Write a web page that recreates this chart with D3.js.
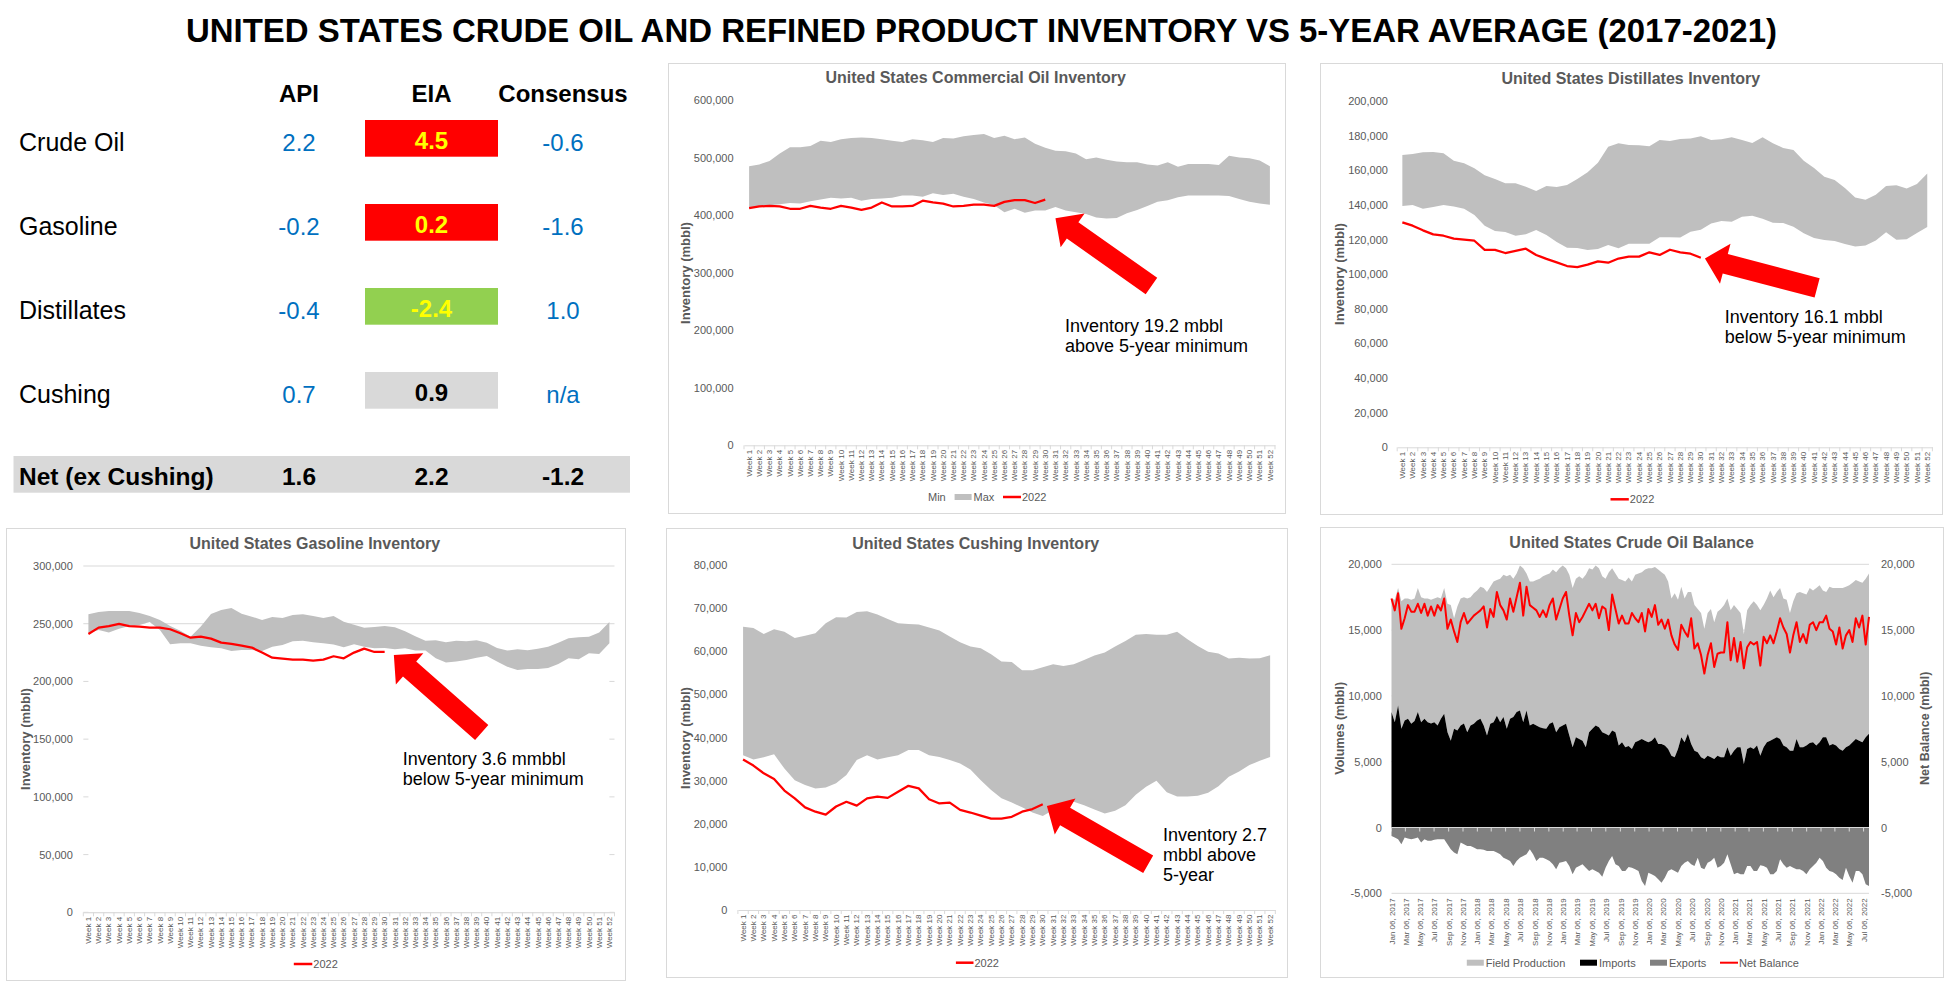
<!DOCTYPE html>
<html>
<head>
<meta charset="utf-8">
<title>US crude oil and refined product inventory vs 5-year average</title>
<script src="https://cdnjs.cloudflare.com/ajax/libs/d3/7.8.5/d3.min.js"></script>
<style>
  body { margin: 0; background: #fff; }
  svg { display: block; font-family: "Liberation Sans", Arial, Helvetica, sans-serif; }
</style>
</head>
<body>
<script>
// ---------- weekly change table (mmbbl) ----------
var tableRows = ["Crude Oil", "Gasoline", "Distillates", "Cushing"];
var apiVals = [2.2, -0.2, -0.4, 0.7];
var eiaVals = [4.5, 0.2, -2.4, 0.9];
var consensusVals = [-0.6, -1.6, 1.0, null];
var netLabel = "Net (ex Cushing)";
var netVals = [1.6, 2.2, -1.2];

var weeks = d3.range(1, 53).map(function(w){ return "Week " + w; });

// ---------- 5-year min / max and 2022 (thousand bbl) ----------
var commercialMax = [485000,488000,494000,507000,518000,518000,520000,529000,527000,532000,
  534000,535000,534000,532000,529000,527000,532000,530000,527000,534000,
  533000,537000,539000,541000,534000,538000,532000,535000,524000,517000,
  512000,511000,507000,497000,500000,496000,493000,492000,492000,488000,
  486000,492000,484000,489000,489000,489000,487000,503000,500000,499000,
  495000,485000];
var commercialMin = [412000,415000,417000,419000,421000,420000,424000,427000,430000,429000,
  430000,425000,428000,429000,430000,434000,434000,432000,438000,435000,
  437000,432000,428000,422000,417000,405000,411000,404000,408000,408000,
  414000,408000,405000,402000,396000,394000,395000,403000,409000,416000,
  423000,426000,431000,434000,434000,434000,434000,433000,428000,423000,
  420000,418000];
var commercial2022 = [412000,415000,416000,415000,411000,411000,416000,413000,411000,416000,
  413000,409000,413000,422000,415000,415000,416000,425000,422000,420000,
  415000,416000,418000,418000,416000,423000,426000,426000,421000,427000];

var distillatesMax = [168800,169400,170400,170500,169800,165500,164000,161100,157100,155000,
  152500,152500,150500,148000,150900,150300,151500,155000,158800,164400,
  173600,175600,174600,174400,173800,177500,176900,178100,178400,179600,
  177500,177900,179000,177500,175700,179000,175600,172900,171700,165500,
  161300,156300,154400,149800,144200,143000,145900,150900,151300,149400,
  152100,158200];
var distillatesMin = [139400,139900,137800,138800,139900,139000,137800,134200,128000,124900,
  124400,122200,123000,125500,122600,118600,115300,115100,114000,114500,
  116800,114900,117600,117600,117600,121300,121300,121100,124500,125700,
  129200,130700,130300,133200,133800,132000,129700,129500,127400,123600,
  120900,119700,119200,117400,115900,116500,119500,124200,119900,120100,
  123800,127200];
var distillates2022 = [129900,128000,125300,123000,122200,120500,119900,119300,114000,114000,
  112200,113400,114700,111100,108800,106800,104700,104100,105500,107400,
  106600,109000,110100,110100,112600,111100,114100,112600,111800,109500];

var gasolineMax = [258200,260200,261000,261000,261000,259300,256700,253300,248000,244000,
  238800,247500,258400,261900,263600,258700,256100,253300,255800,255000,
  257600,258200,256700,255000,256700,251800,249200,246600,247200,248000,
  246900,243400,239100,235300,235600,233900,235300,234800,235600,233600,
  229000,226700,227800,227000,228400,230100,233600,237400,238200,238800,
  242300,251500];
var gasolineMin = [241700,244600,242300,245700,248000,248900,251500,244600,232200,233000,
  233000,231000,229600,228700,226400,227300,227300,226400,230100,231600,
  234800,235300,233900,233000,231900,229600,232200,230100,228700,229000,
  227800,228700,226700,226700,220000,216300,217200,218600,220600,222100,
  217200,212800,209900,210800,210800,211700,215100,220000,219200,224400,
  223800,233000];
var gasoline2022 = [241100,246600,248000,249800,248000,247500,246600,246600,245200,241700,
  237900,238800,237100,233600,232500,231000,229300,225000,220600,219700,
  218900,218900,218000,218900,221800,220000,225000,228400,225500,225500];

var cushingMax = [65700,65400,64000,65100,64500,63100,63600,64200,66500,67900,
  67800,69100,69300,68500,67500,66500,66300,66200,65500,64800,
  63400,62100,61100,60700,59300,57600,57500,55600,55600,56300,
  57000,56600,57000,58000,59000,59700,61100,62400,63800,64000,
  63800,63800,64500,62800,61200,59900,59500,58300,58500,58300,
  58400,59100];
var cushingMin = [35900,34900,35400,36100,32800,30100,29000,28200,28400,29400,
  31300,34800,35900,34900,35400,35900,37100,37100,35900,35500,
  34800,34000,32600,30100,27800,25900,24900,23800,22600,21800,
  23200,24700,25100,24300,23300,22400,23000,24300,26700,28600,
  30000,27300,26300,26300,26500,27200,28700,30900,32100,33600,
  34600,35500];
var cushing2022 = [34900,33500,31700,30400,27700,25900,23800,22800,22100,24000,
  25100,24200,25900,26300,26000,27400,28800,28200,25700,24700,
  24900,23200,22600,21900,21200,21200,21600,22800,23400,24500];

// ---------- crude balance, every 2nd week from Jan 06 2017 (kb/d) ----------
var balanceStart = new Date(2017, 0, 6);
var balanceStepDays = 14;
var imports = [8770,8000,9280,7500,8130,8260,7880,8100,8770,8000,
  8260,8000,7900,8000,7750,8260,8640,7240,6600,7500,
  7370,7750,7900,7240,7750,7880,8130,8260,7750,7000,
  7880,8000,8500,8000,8400,7500,8260,8390,8770,8900,
  8000,8900,7750,7880,7750,7620,7550,7500,7880,8000,
  7240,7620,7750,7880,7000,6100,6860,6730,6600,6100,
  7240,7500,7750,7620,7240,7120,7000,7370,7240,6230,
  6480,6100,6200,5970,6480,6600,6730,6600,6480,6600,
  6860,6350,6350,6230,5970,5460,5340,5970,6860,6480,
  7120,6350,5840,5720,5340,5210,5460,5340,5210,5460,
  5340,5340,6100,5460,5840,6100,6100,4830,5970,6100,
  5970,6230,5460,6100,6480,6600,6730,6860,6730,6230,
  6100,5840,5840,6730,6100,6100,6230,6430,6480,6230,
  6480,6860,6860,6230,6350,6230,5970,5840,6100,6230,
  6480,6730,6600,6480,6860,7120];
var fieldProduction = [8630,9300,8920,9700,9270,9140,9420,9300,9430,9500,
  9140,9400,9400,9400,9750,9140,9560,9760,10300,8400,
  9430,9650,9600,10160,9750,9920,9870,10040,10450,10900,
  10420,10700,10300,10900,10800,11600,10940,10510,10530,11000,
  11700,10400,10950,10820,11050,11280,11550,11700,11420,11600,
  12160,12080,12150,11820,12200,12100,12040,12370,12300,13100,
  12460,12100,12150,12080,11860,11780,12400,12330,12060,12670,
  12320,12600,12800,12730,12720,12700,12670,13000,13220,13100,
  12940,13250,13050,12970,12730,11940,12460,11330,11440,10920,
  10780,11550,11060,10880,10960,9890,10840,11260,10390,10940,
  11260,11560,11300,11040,11060,10500,10200,9870,10530,10800,
  11230,10670,11040,10800,10920,11400,10770,11040,11470,11170,
  11200,10460,11360,11070,11800,11700,11470,11770,11520,11970,
  11920,11140,11040,12070,11850,11970,12230,12360,12200,12170,
  12120,12070,12100,12120,12040,12180];
var exports = [-640,-760,-890,-1270,-760,-840,-890,-840,-760,-1140,
  -890,-1000,-1000,-940,-890,-890,-890,-1270,-1650,-1900,
  -2030,-1140,-1270,-1400,-1400,-1520,-1650,-1650,-1700,-1780,
  -1780,-1780,-1900,-2030,-2290,-2410,-2540,-2920,-2540,-2290,
  -2160,-2030,-1650,-2030,-2540,-2290,-2290,-2410,-2540,-2800,
  -3180,-2670,-2620,-2540,-2920,-3560,-3050,-2920,-2800,-3050,
  -3300,-3180,-3300,-3430,-3740,-3050,-2540,-2160,-2800,-2920,
  -3300,-3300,-3000,-3050,-3180,-3300,-4070,-4450,-3430,-3560,
  -3680,-3940,-4190,-3810,-3300,-3180,-3300,-3430,-2920,-2670,
  -2540,-2800,-2920,-2290,-3050,-3180,-2670,-2540,-2290,-3050,
  -2920,-2670,-2030,-2800,-3560,-3430,-3560,-3560,-2920,-2920,
  -3300,-3300,-2870,-2920,-3050,-3560,-3560,-3300,-2410,-2800,
  -3050,-2920,-3050,-3180,-3180,-3300,-3560,-3180,-2920,-2670,
  -2290,-2540,-3050,-3300,-3380,-3560,-3810,-3990,-3050,-3680,
  -4190,-3300,-3300,-3560,-4320,-4450];
var netBalance = [17400,16500,17800,15100,15900,16900,16400,16400,17000,16300,
  17000,16100,16800,16100,16900,16500,17400,15100,15800,14900,
  14100,15600,16300,15500,15800,16100,16300,16500,16800,15200,
  16600,16000,17900,16900,16500,15800,17400,16400,17500,18600,
  16100,18300,16900,16700,16500,16000,16500,16000,16900,17400,
  15800,16600,17400,17900,16100,14600,16300,15600,16000,16500,
  17000,16500,17000,15900,16800,16600,15000,17700,16600,15500,
  16100,15500,15500,16300,15900,15600,16300,14900,16600,16000,
  16900,15400,15800,15100,15800,14600,13900,13500,15400,14900,
  14500,15900,13600,14000,13100,11700,13100,14000,12200,13200,
  13300,13300,15600,12700,14400,12600,14100,12100,13700,14100,
  13900,14100,12300,14500,14000,14600,14000,14900,15900,15200,
  14700,13300,14600,15600,14100,14700,14000,15400,15600,15000,
  15600,15600,16100,15100,14900,13900,15200,13600,14600,15000,
  14100,15900,15200,16100,13900,16000];

// ------------------------------------------------------------
var FONT = '"Liberation Sans", Arial, Helvetica, sans-serif';
var GREY_TXT = "#595959", BAND = "#bfbfbf", LINE_GREY = "#d9d9d9", RED = "#ff0000";

// excel style numbers: plain hyphen for minus
var loc = d3.formatLocale({decimal: ".", thousands: ",", grouping: [3], currency: ["$", ""], minus: "-"});
var fmt1 = loc.format(".1f"), fmtComma = loc.format(",");

var svg = d3.select("body").append("svg")
  .attr("width", 1946)
  .attr("height", 986);

svg.append("rect").attr("width", 1946).attr("height", 986).attr("fill", "#fff");

// big title
svg.append("text")
  .attr("x", 981.5).attr("y", 41.5)
  .attr("text-anchor", "middle")
  .attr("font-size", 33).attr("font-weight", "bold")
  .attr("textLength", 1591).attr("lengthAdjust", "spacingAndGlyphs")
  .text("UNITED STATES CRUDE OIL AND REFINED PRODUCT INVENTORY VS 5-YEAR AVERAGE (2017-2021)");

// ---------- table ----------
function drawTable(){
  var colX = [299, 431.5, 563];
  var t = svg.append("g");
  ["API", "EIA", "Consensus"].forEach(function(h, i){
    t.append("text").attr("x", colX[i]).attr("y", 101.7)
      .attr("text-anchor", "middle").attr("font-size", 24).attr("font-weight", "bold")
      .text(h);
  });

  tableRows.forEach(function(name, r){
    var base = 150.7 + r*84, boxTop = 120 + r*84;
    // red = build bigger than expected, green = draw, grey = nothing to compare with
    var c = consensusVals[r];
    var fill = c == null ? "#d9d9d9" : (eiaVals[r] > c ? "#ff0000" : "#92d050");
    var txtCol = c == null ? "#000" : "#ffff00";

    t.append("text").attr("x", 19).attr("y", base).attr("font-size", 25).text(name);
    t.append("text").attr("x", colX[0]).attr("y", base).attr("text-anchor", "middle")
      .attr("font-size", 24).attr("fill", "#0070c0").text(fmt1(apiVals[r]));
    t.append("rect").attr("x", 365).attr("y", boxTop).attr("width", 133).attr("height", 36.7).attr("fill", fill);
    t.append("text").attr("x", colX[1]).attr("y", base - 1.5).attr("text-anchor", "middle")
      .attr("font-size", 24).attr("font-weight", "bold").attr("fill", txtCol).text(fmt1(eiaVals[r]));
    t.append("text").attr("x", colX[2]).attr("y", base).attr("text-anchor", "middle")
      .attr("font-size", 24).attr("fill", "#0070c0").text(c == null ? "n/a" : fmt1(c));
  });

  t.append("rect").attr("x", 13.5).attr("y", 456).attr("width", 616.5).attr("height", 36.7).attr("fill", "#d9d9d9");
  t.append("text").attr("x", 19).attr("y", 485).attr("font-size", 24.5).attr("font-weight", "bold").text(netLabel);
  netVals.forEach(function(v, i){
    t.append("text").attr("x", colX[i]).attr("y", 485).attr("text-anchor", "middle")
      .attr("font-size", 24.5).attr("font-weight", "bold").text(fmt1(v));
  });
}

// block arrow, tail -> tip
function blockArrow(g, tip, tail, shaft, headW, headL){
  var dx = tip[0]-tail[0], dy = tip[1]-tail[1], len = Math.sqrt(dx*dx+dy*dy);
  var ux = dx/len, uy = dy/len, nx = -uy, ny = ux;
  var bx = tip[0]-ux*headL, by = tip[1]-uy*headL;
  var pts = [
    [tail[0]+nx*shaft/2, tail[1]+ny*shaft/2],
    [bx+nx*shaft/2, by+ny*shaft/2],
    [bx+nx*headW/2, by+ny*headW/2],
    tip,
    [bx-nx*headW/2, by-ny*headW/2],
    [bx-nx*shaft/2, by-ny*shaft/2],
    [tail[0]-nx*shaft/2, tail[1]-ny*shaft/2]
  ];
  g.append("path").attr("d", d3.line()(pts) + "Z").attr("fill", RED);
}

function panelFrame(g, box, title, tx, ty){
  g.append("rect")
    .attr("x", box[0]+0.5).attr("y", box[1]+0.5)
    .attr("width", box[2]-box[0]).attr("height", box[3]-box[1])
    .attr("fill", "#fff").attr("stroke", LINE_GREY).attr("stroke-width", 1);
  g.append("text").attr("x", tx).attr("y", ty).attr("text-anchor", "middle")
    .attr("font-size", 16).attr("font-weight", "bold").attr("fill", GREY_TXT)
    .text(title);
}

function yTitle(g, txt, x, y, size){
  g.append("text")
    .attr("transform", "translate(" + (x + size*0.35) + "," + y + ") rotate(-90)")
    .attr("text-anchor", "middle").attr("font-size", size).attr("font-weight", "bold")
    .attr("fill", GREY_TXT).text(txt);
}

function legendLine(g, x0, x1, y, label, w){
  g.append("line").attr("x1", x0).attr("x2", x1).attr("y1", y).attr("y2", y)
    .attr("stroke", RED).attr("stroke-width", w || 2.5);
  g.append("text").attr("x", x1 + 1).attr("y", y + 4).attr("font-size", 11).attr("fill", GREY_TXT).text(label);
}
function legendRect(g, x0, y, color, label){
  g.append("rect").attr("x", x0).attr("y", y - 3).attr("width", 17).attr("height", 6).attr("fill", color);
  g.append("text").attr("x", x0 + 19).attr("y", y + 4).attr("font-size", 11).attr("fill", GREY_TXT).text(label);
}

// ---------- weekly inventory chart ----------
function inventoryChart(cfg){
  var g = svg.append("g");
  panelFrame(g, cfg.box, cfg.title, cfg.titleX, cfg.titleY);

  var x = d3.scaleBand().domain(weeks).range([cfg.plot.left, cfg.plot.right]);
  var y = d3.scaleLinear().domain([0, cfg.yMax]).range([cfg.plot.bottom, cfg.plot.top]);
  var bw = x.bandwidth();
  function cx(d, i){ return x(weeks[i]) + bw/2; }
  function wx(w){ return x(weeks[0]) + bw/2 + (w-1)*bw; } // fractional week -> px

  var ticks = d3.range(0, cfg.yMax + 1, cfg.yStep);

  if(cfg.grid){
    g.selectAll(".grid").data(ticks).enter().append("line")
      .attr("x1", cfg.plot.left).attr("x2", cfg.plot.right)
      .attr("y1", function(d){ return y(d); }).attr("y2", function(d){ return y(d); })
      .attr("stroke", LINE_GREY).attr("stroke-width", 1);
  }

  // min series is white filled in excel, hides the grid under it
  g.append("path").datum(cfg.min)
    .attr("fill", "#fff")
    .attr("d", d3.area().x(cx).y0(y(0)).y1(function(d){ return y(d); }));

  g.append("path").datum(cfg.max)
    .attr("fill", BAND)
    .attr("d", d3.area().x(cx)
      .y0(function(d, i){ return y(cfg.min[i]); })
      .y1(function(d){ return y(d); }));

  g.append("path").datum(cfg.cur)
    .attr("fill", "none").attr("stroke", RED).attr("stroke-width", 2.25)
    .attr("stroke-linejoin", "round")
    .attr("d", d3.line().x(cx).y(function(d){ return y(d); }));

  // y axis labels, no line
  var ya = g.append("g").attr("transform", "translate(" + cfg.plot.left + ",0)")
    .call(d3.axisLeft(y).tickValues(ticks).tickSize(0).tickPadding(cfg.labelPad).tickFormat(fmtComma));
  ya.select(".domain").remove();
  ya.attr("font-family", FONT).attr("font-size", 11);
  ya.selectAll("text").attr("fill", GREY_TXT);

  // x axis
  var xa = g.append("g").attr("transform", "translate(0," + cfg.plot.bottom + ")")
    .call(d3.axisBottom(x).tickSize(0));
  xa.attr("font-family", FONT).attr("font-size", 8);
  xa.select(".domain").attr("stroke", LINE_GREY);
  xa.selectAll("text")
    .attr("transform", "rotate(-90)")
    .attr("text-anchor", "end")
    .attr("x", -4.5).attr("y", 0).attr("dy", "0.33em")
    .attr("fill", GREY_TXT);
  g.selectAll(".tk").data(weeks.concat(["end"])).enter().append("line")
    .attr("x1", function(d){ return d == "end" ? cfg.plot.right : x(d); })
    .attr("x2", function(d){ return d == "end" ? cfg.plot.right : x(d); })
    .attr("y1", cfg.plot.bottom).attr("y2", cfg.plot.bottom + 4)
    .attr("stroke", LINE_GREY);

  yTitle(g, "Inventory (mbbl)", cfg.yTitleX, cfg.yTitleY, 13);

  // callout
  var a = cfg.arrow;
  blockArrow(g, [wx(a.tip[0]), y(a.tip[1])], [wx(a.tail[0]), y(a.tail[1])], 20, 41.5, 21);
  var note = g.append("text").attr("font-size", 18).attr("fill", "#000");
  cfg.note.forEach(function(line, i){
    note.append("tspan").attr("x", cfg.noteX).attr("y", cfg.noteY + i*20).text(line);
  });

  cfg.legend(g);
}

// ---------- crude balance ----------
function balanceChart(){
  var box = [1320, 527, 1943, 977];
  var plot = {left: 1391.5, right: 1869, top: 564.3, bottom: 893.3};
  var g = svg.append("g");
  panelFrame(g, box, "United States Crude Oil Balance", 1631.6, 548.3);

  var dates = imports.map(function(d, i){ return d3.timeDay.offset(balanceStart, i*balanceStepDays); });
  var x = d3.scaleTime().domain([dates[0], dates[dates.length-1]]).range([plot.left, plot.right]);
  var y = d3.scaleLinear().domain([-5000, 20000]).range([plot.bottom, plot.top]);
  var ticks = d3.range(-5000, 20001, 5000);
  var tickDates = d3.range(0, 34).map(function(i){ return d3.timeMonth.offset(balanceStart, i*2); });

  g.selectAll(".grid").data(ticks).enter().append("line")
    .attr("x1", plot.left).attr("x2", plot.right)
    .attr("y1", function(d){ return y(d); }).attr("y2", function(d){ return y(d); })
    .attr("stroke", LINE_GREY);

  function dx(d, i){ return x(dates[i]); }

  // stacked: imports at the bottom, field production on top
  g.append("path").datum(fieldProduction).attr("fill", BAND)
    .attr("d", d3.area().x(dx)
      .y0(function(d, i){ return y(imports[i]); })
      .y1(function(d, i){ return y(imports[i] + d); }));
  g.append("path").datum(imports).attr("fill", "#000")
    .attr("d", d3.area().x(dx).y0(y(0)).y1(function(d){ return y(d); }));
  g.append("path").datum(exports).attr("fill", "#808080")
    .attr("d", d3.area().x(dx).y0(y(0)).y1(function(d){ return y(d); }));

  // axis line at zero with the little date ticks
  g.append("line").attr("x1", plot.left).attr("x2", plot.right)
    .attr("y1", y(0)).attr("y2", y(0)).attr("stroke", LINE_GREY);
  g.selectAll(".tk").data(tickDates).enter().append("line")
    .attr("x1", function(d){ return x(d); }).attr("x2", function(d){ return x(d); })
    .attr("y1", y(0)).attr("y2", y(0) + 4).attr("stroke", LINE_GREY);

  g.append("path").datum(netBalance)
    .attr("fill", "none").attr("stroke", RED).attr("stroke-width", 2)
    .attr("stroke-linejoin", "round")
    .attr("d", d3.line().x(dx).y(function(d){ return y(d); }));

  var yl = g.append("g").attr("transform", "translate(" + plot.left + ",0)")
    .call(d3.axisLeft(y).tickValues(ticks).tickSize(0).tickPadding(9.7).tickFormat(fmtComma));
  var yr = g.append("g").attr("transform", "translate(" + plot.right + ",0)")
    .call(d3.axisRight(y).tickValues(ticks).tickSize(0).tickPadding(12).tickFormat(fmtComma));
  [yl, yr].forEach(function(a){
    a.select(".domain").remove();
    a.attr("font-family", FONT).attr("font-size", 11);
    a.selectAll("text").attr("fill", GREY_TXT);
  });

  var xa = g.append("g").attr("transform", "translate(0," + plot.bottom + ")")
    .call(d3.axisBottom(x).tickValues(tickDates).tickSize(0).tickFormat(d3.timeFormat("%b %d, %Y")));
  xa.select(".domain").remove();
  xa.attr("font-family", FONT).attr("font-size", 8);
  xa.selectAll("text")
    .attr("transform", "rotate(-90)")
    .attr("text-anchor", "end")
    .attr("x", -5).attr("y", 0).attr("dy", "0.33em")
    .attr("fill", GREY_TXT);

  yTitle(g, "Volumes (mbbl)", 1340, 728.3, 12.5);
  yTitle(g, "Net Balance (mbbl)", 1924.7, 728.3, 12.5);

  legendRect(g, 1466.8, 962.7, BAND, "Field Production");
  legendRect(g, 1580, 962.7, "#000", "Imports");
  legendRect(g, 1650, 962.7, "#808080", "Exports");
  legendLine(g, 1720, 1738, 962.7, "Net Balance", 2);
}

drawTable();

inventoryChart({
  box: [668, 63, 1285, 513],
  plot: {left: 744, right: 1275, top: 100, bottom: 445.3},
  yMax: 600000, yStep: 100000, labelPad: 10.4, grid: false,
  title: "United States Commercial Oil Inventory", titleX: 975.7, titleY: 83.3,
  yTitleX: 685.8, yTitleY: 273,
  min: commercialMin, max: commercialMax, cur: commercial2022,
  arrow: {tip: [31.0, 394500], tail: [40.4, 276800]},
  note: ["Inventory 19.2 mbbl", "above 5-year minimum"], noteX: 1065, noteY: 331.7,
  legend: function(g){
    g.append("text").attr("x", 928).attr("y", 501).attr("font-size", 11).attr("fill", GREY_TXT).text("Min");
    legendRect(g, 954.6, 497, BAND, "Max");
    legendLine(g, 1003, 1021, 497, "2022");
  }
});

inventoryChart({
  box: [1320, 63, 1942, 514],
  plot: {left: 1397.2, right: 1932.4, top: 101, bottom: 447.3},
  yMax: 200000, yStep: 20000, labelPad: 9.3, grid: false,
  title: "United States Distillates Inventory", titleX: 1630.8, titleY: 84.3,
  yTitleX: 1339.3, yTitleY: 274,
  min: distillatesMin, max: distillatesMax, cur: distillates2022,
  arrow: {tip: [30.4, 109100], tail: [41.3, 92100]},
  note: ["Inventory 16.1 mbbl", "below 5-year minimum"], noteX: 1724.7, noteY: 322.7,
  legend: function(g){ legendLine(g, 1610.5, 1628.8, 499.3, "2022"); }
});

inventoryChart({
  box: [6, 528, 625, 980],
  plot: {left: 83.3, right: 614.5, top: 566, bottom: 912.3},
  yMax: 300000, yStep: 50000, labelPad: 10.5, grid: true,
  title: "United States Gasoline Inventory", titleX: 314.8, titleY: 549.3,
  yTitleX: 25.3, yTitleY: 739,
  min: gasolineMin, max: gasolineMax, cur: gasoline2022,
  arrow: {tip: [30.9, 222900], tail: [39.5, 155800]},
  note: ["Inventory 3.6 mmbbl", "below 5-year minimum"], noteX: 402.8, noteY: 765,
  legend: function(g){ legendLine(g, 293.8, 312.3, 964, "2022"); }
});

inventoryChart({
  box: [666, 528, 1287, 977],
  plot: {left: 737.9, right: 1275.3, top: 565, bottom: 910},
  yMax: 80000, yStep: 10000, labelPad: 10.6, grid: false,
  title: "United States Cushing Inventory", titleX: 975.7, titleY: 549.3,
  yTitleX: 685.3, yTitleY: 738,
  min: cushingMin, max: cushingMax, cur: cushing2022,
  arrow: {tip: [30.4, 24100], tail: [40.2, 10600]},
  note: ["Inventory 2.7", "mbbl above", "5-year"], noteX: 1163, noteY: 840.7,
  legend: function(g){ legendLine(g, 955.9, 973.5, 962.7, "2022"); }
});

balanceChart();
</script>
</body>
</html>
